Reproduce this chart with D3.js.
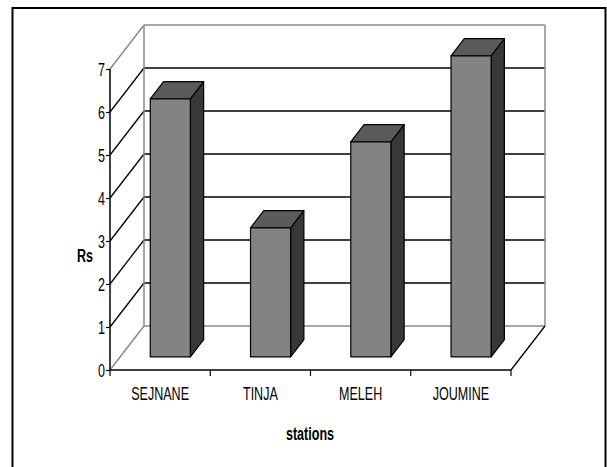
<!DOCTYPE html>
<html>
<head>
<meta charset="utf-8">
<script src="https://cdn.jsdelivr.net/npm/d3@7"></script>
<style>
  html, body { margin: 0; padding: 0; background: #fff; }
  svg { display: block; }
  text { font-family: "Liberation Sans", Arial, sans-serif; fill: #000; }
</style>
</head>
<body>
<svg id="chart" width="607" height="467"></svg>
<script>
// Data
const stations = ["SEJNANE", "TINJA", "MELEH", "JOUMINE"];
const rsValues = [6, 3, 5, 7];
const yTicks = [0, 1, 2, 3, 4, 5, 6, 7];
const xTitle = "stations";
const yTitle = "Rs";

const svg = d3.select("#chart");
const FS = "19px", SX = 0.66;

// Outer frame
svg.append("rect")
  .attr("x", 12.5).attr("y", 8).attr("width", 593).attr("height", 470)
  .attr("fill", "#fff").attr("stroke", "#000").attr("stroke-width", 2);

// Front plane scales
const x = d3.scaleBand().domain(stations).range([110, 511]).padding(0);
const y = d3.scaleLinear().domain([0, 7]).range([370, 69]);

// Oblique depth projection
const DX = 34, DY = -44;
const proj = (px, py, d) => [px + DX * d, py + DY * d];

const grey = "#8a8a8a";
const g = svg.append("g");

function seg(p1, p2, color, w) {
  g.append("line")
    .attr("x1", p1[0]).attr("y1", p1[1])
    .attr("x2", p2[0]).attr("y2", p2[1])
    .attr("stroke", color).attr("stroke-width", w || 1.2);
}

const xL = x.range()[0], xR = x.range()[1];
const vMax = y.domain()[1];

// Back wall and side wall gridlines
yTicks.forEach(v => {
  const edge = (v === 0 || v === vMax);
  const col = edge ? grey : "#000";
  const w = edge ? 1.5 : 1.3;
  seg(proj(xL, y(v), 0), proj(xL, y(v), 1), col, w);
  seg(proj(xL, y(v), 1), proj(xR, y(v), 1), col, w);
});
// Wall edges
seg(proj(xL, y(0), 1), proj(xL, y(vMax), 1), grey, 1.5);
seg(proj(xR, y(0), 1), proj(xR, y(vMax), 1), grey, 1.5);
// Floor right edge
seg(proj(xR, y(0), 0), proj(xR, y(0), 1), "#000", 1.3);

// Bars (3D columns)
const d1 = 0.3, d2 = 0.69;
const barFrac = 0.4;
const bars = g.selectAll("g.bar").data(stations.map((s, i) => ({ s, v: rsValues[i] })))
  .enter().append("g").attr("class", "bar");

bars.each(function (d) {
  const bw = x.bandwidth() * barFrac;
  const fx0 = x(d.s) + (x.bandwidth() - bw) / 2;
  const fx1 = fx0 + bw;
  const top = y(d.v), bot = y(0);
  const A = proj(fx0, bot, d1), B = proj(fx1, bot, d1);
  const C = proj(fx1, top, d1), D = proj(fx0, top, d1);
  const B2 = proj(fx1, bot, d2), C2 = proj(fx1, top, d2), D2 = proj(fx0, top, d2);
  const sel = d3.select(this);
  const line = d3.line();
  // side face
  sel.append("path").attr("d", line([B, B2, C2, C]) + "Z")
    .attr("fill", "#383838").attr("stroke", "#000").attr("stroke-width", 1.2)
    .attr("stroke-linejoin", "round");
  // top face
  sel.append("path").attr("d", line([D, C, C2, D2]) + "Z")
    .attr("fill", "#5a5a5a").attr("stroke", "#000").attr("stroke-width", 1.2)
    .attr("stroke-linejoin", "round");
  // front face
  sel.append("path").attr("d", line([A, B, C, D]) + "Z")
    .attr("fill", "#838383").attr("stroke", "#000").attr("stroke-width", 1.2)
    .attr("stroke-linejoin", "round");
});

// Axes
const xAxis = svg.append("g").attr("transform", `translate(0,${y(0)})`)
  .call(d3.axisBottom(x).tickSize(0).tickFormat(""));
xAxis.select(".domain").attr("stroke", "#000").attr("stroke-width", 1.5).attr("d", `M${xL},0H${xR}`);
// category boundary ticks
const bounds = stations.map(s => x(s)).concat([xR]);
xAxis.selectAll("line.bt").data(bounds).enter().append("line")
  .attr("class", "bt").attr("x1", d => d).attr("x2", d => d)
  .attr("y1", 0).attr("y2", 6).attr("stroke", "#000").attr("stroke-width", 1.2);
// category labels
xAxis.selectAll("text.cat").data(stations).enter().append("text")
  .attr("class", "cat")
  .attr("transform", d => `translate(${x(d) + x.bandwidth() / 2},30) scale(${SX},1)`)
  .attr("text-anchor", "middle").style("font-size", FS).text(d => d);

const yAxis = svg.append("g").attr("transform", `translate(${xL},0)`)
  .call(d3.axisLeft(y).tickValues(yTicks).tickSize(4).tickFormat(""));
yAxis.select(".domain").attr("stroke", "#000").attr("stroke-width", 1.5).attr("d", `M0,${y(0)}V${y(vMax)}`);
yAxis.selectAll(".tick line").attr("stroke", "#000").attr("stroke-width", 1.2);
yAxis.selectAll("text.yl").data(yTicks).enter().append("text")
  .attr("class", "yl")
  .attr("transform", d => `translate(-5,${y(d) + 7}) scale(${SX},1)`)
  .attr("text-anchor", "end").style("font-size", FS).text(d => d);

// Axis titles
svg.append("text")
  .attr("transform", `translate(310,440) scale(${SX},1)`)
  .attr("text-anchor", "middle").style("font-size", FS).style("font-weight", "bold")
  .text(xTitle);
svg.append("text")
  .attr("transform", `translate(85,262) scale(${SX},1)`)
  .attr("text-anchor", "middle").style("font-size", FS).style("font-weight", "bold")
  .text(yTitle);
</script>
</body>
</html>
